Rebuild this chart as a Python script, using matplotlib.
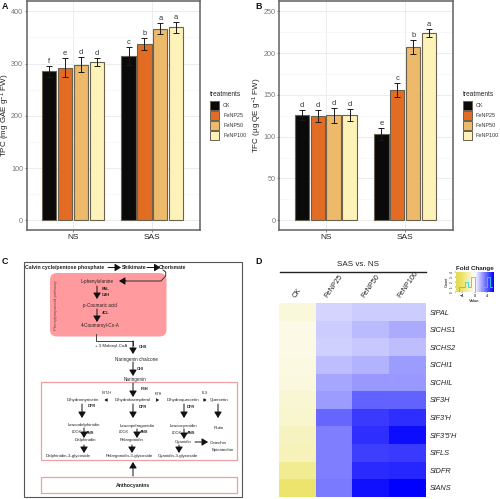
import numpy as np
import matplotlib
matplotlib.use("Agg")
import matplotlib.pyplot as plt
from matplotlib.colors import LinearSegmentedColormap
from matplotlib.patches import FancyBboxPatch, Rectangle

plt.rcParams['font.family'] = ['Liberation Sans', 'DejaVu Sans']
plt.rcParams['mathtext.default'] = 'regular'

W, H = 500, 499

# bar data
groups = ["NS", "SAS"]
treatments = ["CK", "FeNP25", "FeNP50", "FeNP100"]
bar_colors = ["#0a0a0a", "#e36c24", "#edb96a", "#fdf3b8"]

tpc_ns = [285, 292, 298, 303]
tpc_sas = [315, 337, 367, 369]
tpc_ns_err = [10, 18, 15, 8]
tpc_sas_err = [17, 12, 11, 10]
tpc_ns_letters = ["f", "e", "d", "d"]
tpc_sas_letters = ["c", "b", "a", "a"]

tfc_ns = [125.5, 124.5, 125.5, 126]
tfc_sas = [103, 156, 207.5, 224]
tfc_ns_err = [6, 7, 9, 7.5]
tfc_sas_err = [7, 8, 8.5, 5]
tfc_ns_letters = ["d", "d", "d", "d"]
tfc_sas_letters = ["e", "c", "b", "a"]

# heatmap data
genes = ["SlPAL", "SlCHS1", "SlCHS2", "SlCHI1", "SlCHIL", "SlF3H", "SlF3'H",
         "SlF3'5'H", "SlFLS", "SlDFR", "SlANS"]
fold_ck = [-1.0, -0.7, -0.7, -0.8, -0.9, -1.2, -1.4, -1.7, -1.9, -3.0, -4.0]
fold_25 = [1.0, 1.2, 1.1, 1.5, 2.1, 2.3, 3.6, 3.0, 3.0, 3.0, 3.1]
fold_50 = [1.2, 1.6, 1.3, 1.8, 2.4, 3.7, 4.6, 4.9, 4.5, 5.0, 5.6]
fold_100 = [1.2, 2.0, 1.5, 2.3, 2.4, 3.7, 4.9, 5.7, 4.6, 5.1, 6.0]

# colour key histogram
hist_edges = [-6, -5, -4, -3, -2, -1, 0, 1, 2, 3, 4, 5, 6]
hist_counts = [0, 1, 1, 2, 1, 3, 0, 0, 1, 1, 3, 1]


def px_axes(fig, x0, y0, x1, y1, **kw):
    return fig.add_axes([x0 / W, 1 - y1 / H, (x1 - x0) / W, (y1 - y0) / H], **kw)


def bar_panel(fig, box, ns, sas, ns_err, sas_err, ns_let, sas_let, ylim, major, minor, ylabel, label_off):
    ax = px_axes(fig, *box)
    width = 0.18
    step = 0.2
    for g, (vals, errs, lets) in enumerate([(ns, ns_err, ns_let), (sas, sas_err, sas_let)]):
        for i in range(4):
            x = g + 1 + (i - 1.5) * step
            ax.bar(x, vals[i], width, color=bar_colors[i], edgecolor="#6a6250", linewidth=0.8, zorder=3)
            ax.errorbar(x, vals[i], yerr=errs[i], color="#1a1a1a", linewidth=0.7, capsize=2.2,
                        capthick=0.7, zorder=4)
            ax.text(x, vals[i] + errs[i] + (ylim[1] - ylim[0]) * 0.004, lets[i], ha="center", va="bottom",
                    fontsize=5.4, color="#333333", zorder=5)
    ax.set_xlim(0.414, 2.6)
    ax.set_ylim(*ylim)
    ax.set_xticks([1, 2])
    ax.set_xticklabels(groups, fontsize=6, color="#222222")
    ax.set_yticks(major)
    ax.set_yticks(minor, minor=True)
    ax.tick_params(axis="y", labelsize=5.2, labelcolor="#777777", color="#555555", length=1.5, width=0.5, pad=1)
    ax.tick_params(axis="y", which="minor", length=0)
    ax.tick_params(axis="x", length=1.5, width=0.5, color="#555555", pad=1.5)
    ax.set_ylabel(ylabel, fontsize=5.8, color="#222222")
    ax.yaxis.set_label_coords(-label_off / (box[2] - box[0]), 0.5)
    ax.grid(True, which="major", color="#ececec", linewidth=0.7, zorder=0)
    ax.grid(True, which="minor", axis="y", color="#f5f5f5", linewidth=0.5, zorder=0)
    ax.set_axisbelow(True)
    for s in ax.spines.values():
        s.set_color("#606060")
        s.set_linewidth(1.1)
    return ax


def draw_legend(ov, x, y):
    ov.text(x, y, "treatments", fontsize=4.7, va="center", ha="left", color="#222222")
    for i, name in enumerate(treatments):
        top = y + 6.7 + i * 10
        ov.add_patch(Rectangle((x, top + 0.3), 9.4, 9.4, facecolor=bar_colors[i], edgecolor="#6a6250", linewidth=0.7))
        ov.text(x + 13, top + 5, name, fontsize=3.9, va="center", ha="left", color="#333333")


fig = plt.figure(figsize=(W / 100, H / 100), dpi=100)

bar_panel(fig, (26.5, 1, 200, 230), tpc_ns, tpc_sas, tpc_ns_err, tpc_sas_err, tpc_ns_letters, tpc_sas_letters,
          (-18.6, 419.7), [0, 100, 200, 300, 400], [50, 150, 250, 350],
          "TPC (mg GAE g$^{-1}$ FW)", 14)
bar_panel(fig, (279, 1, 453, 230), tfc_ns, tfc_sas, tfc_ns_err, tfc_sas_err, tfc_ns_letters,
          tfc_sas_letters, (-11.6, 262.3), [0, 50, 100, 150, 200, 250], [25, 75, 125, 175, 225],
          "TFC (µg QE g$^{-1}$ FW)", 15)

# overlay in pixel coordinates for the pathway scheme and panel letters
ov = fig.add_axes([0, 0, 1, 1], zorder=10)
ov.set_xlim(0, W)
ov.set_ylim(H, 0)
ov.axis("off")
ov.patch.set_alpha(0)

draw_legend(ov, 210, 94)
draw_legend(ov, 463, 94)

for x, y, s in [(2, 6.5, "A"), (255, 6.5, "B"), (2, 262, "C"), (255, 262, "D")]:
    ov.text(x, y, s, fontsize=6.4, fontweight="bold", va="center", ha="left", color="#111111")

ov.add_patch(Rectangle((23.5, 261.7), 218.5, 235, facecolor="white", edgecolor="#555555", linewidth=0.8))
ov.add_patch(FancyBboxPatch((50, 273), 116.5, 63.5, boxstyle="round,pad=0,rounding_size=7", facecolor="#ff9a9e",
                            edgecolor="none"))
ov.add_patch(Rectangle((41, 382), 196, 78, facecolor="none", edgecolor="#eda0a4", linewidth=0.9))
ov.add_patch(Rectangle((41, 477), 196, 16, facecolor="none", edgecolor="#eda0a4", linewidth=0.9))

scheme_text = [
    (65, 267.5, "Calvin cycle/pentose phosphate", 3.7, "bold", "center"),
    (134, 267.5, "Shikimate", 3.7, "bold", "center"),
    (172, 267.5, "Chorismate", 3.5, "bold", "center"),
    (97, 281, "L-phenylalanine", 3.3, "normal", "center"),
    (100, 305, "p-Coumaric acid", 3.3, "normal", "center"),
    (100, 326, "4-Coumaroyl-Co-A", 3.3, "normal", "center"),
    (102, 289, "PAL", 2.9, "bold", "left"),
    (102, 295, "C4H", 2.9, "bold", "left"),
    (102, 313, "4CL", 2.9, "bold", "left"),
    (111, 346, "+ 3 Malonyl-CoA", 3.2, "normal", "center"),
    (139, 347, "CHS", 2.9, "bold", "left"),
    (136, 359, "Naringenin chalcone", 3.3, "normal", "center"),
    (137, 368.5, "CHI", 2.9, "bold", "left"),
    (135, 379.5, "Naringenin", 3.3, "normal", "center"),
    (141, 388.5, "F3H", 2.9, "bold", "left"),
    (107, 393.5, "F3'5'H", 2.5, "normal", "center"),
    (158, 394, "F3'H", 2.5, "normal", "center"),
    (205, 393.5, "FLS", 2.5, "normal", "center"),
    (83, 400, "Dihydromyricetin", 3.2, "normal", "center"),
    (133, 400, "Dihydrokaempferol", 3.2, "normal", "center"),
    (183, 400, "Dihydroquercetin", 3.2, "normal", "center"),
    (219, 400, "Quercetin", 3.2, "normal", "center"),
    (88, 406, "DFR", 2.9, "bold", "left"),
    (139, 406.5, "DFR", 2.9, "bold", "left"),
    (187, 406.5, "DFR", 2.9, "bold", "left"),
    (84, 425, "Leucodelphinidin", 3.2, "normal", "center"),
    (137, 426, "Leucopelargonidin", 3.2, "normal", "center"),
    (183, 426, "Leucocyanidin", 3.2, "normal", "center"),
    (219, 428, "Rutin", 3.2, "normal", "center"),
    (77, 432, "LDOX", 2.7, "normal", "center"),
    (124, 432, "LDOX", 2.7, "normal", "center"),
    (177, 433, "LDOX", 2.7, "normal", "center"),
    (90, 433, "ANS", 2.9, "bold", "center"),
    (144, 432, "ANS", 2.9, "bold", "center"),
    (191, 433, "ANS", 2.9, "bold", "center"),
    (85, 440.5, "Delphinidin", 3.2, "normal", "center"),
    (132, 440, "Pelargonidin", 3.2, "normal", "center"),
    (183, 442, "Cyanidin", 3.2, "normal", "center"),
    (218, 442.5, "Catechin", 3.2, "normal", "center"),
    (223, 449.5, "Epicatechin", 3.2, "normal", "center"),
    (68, 456.5, "Delphinidin-3-glycoside", 3.2, "normal", "center"),
    (129, 456.5, "Pelargonidin-3-glycoside", 3.2, "normal", "center"),
    (178, 456, "Cyanidin-3-glycoside", 3.2, "normal", "center"),
    (133, 485.5, "Anthocyanins", 3.7, "bold", "center"),
]
for x, y, s, fs, fw, ha in scheme_text:
    ov.text(x, y, s, fontsize=fs, fontweight=fw, ha=ha, va="center", color="#222222")
ov.text(56.5, 305, "Phenylpropanoid pathway", fontsize=3.2, rotation=90, ha="center", va="center", color="#7a4a4a")

scheme_arrows = [
    (108, 267.5, 121, 267.5), (147, 267.5, 160.5, 267.5), (126, 281, 119, 281),
    (97, 286, 97, 299), (97, 309, 97, 322), (133, 341, 133, 354), (133, 362, 133, 376),
    (133, 383, 133, 397), (133, 404, 133, 418), (82, 404, 82, 418), (184, 404, 184, 418),
    (218, 404, 218, 418), (84, 428, 84, 438), (137, 429, 137, 438), (184, 429, 184, 439),
    (84, 445, 84, 453), (132, 445, 132, 453), (179, 445, 179, 453), (195, 442, 208, 442),
    (133, 476, 133, 462),
]
for x0, y0, x1, y1 in scheme_arrows:
    ov.annotate("", xy=(x1, y1), xytext=(x0, y0),
                arrowprops=dict(arrowstyle="-|>,head_width=0.16,head_length=0.26", color="#111111", lw=0.7,
                                shrinkA=0, shrinkB=0, mutation_scale=14))
# the three tiny side arrows next to the dihydro compounds
for x0, x1 in [(107, 104.5), (156.5, 159), (204, 206.5)]:
    ov.annotate("", xy=(x1, 400), xytext=(x0, 400),
                arrowprops=dict(arrowstyle="-|>,head_width=0.1,head_length=0.16", color="#111111", lw=0.4,
                                shrinkA=0, shrinkB=0, mutation_scale=10))
ov.plot([163, 165.7, 165.7, 161, 125], [270, 272, 276, 281, 281], color="#333333", lw=0.7)
ov.plot([96, 96, 133, 133], [334, 341, 341, 345], color="#444444", lw=0.7)

# heatmap
fold = np.array([fold_ck, fold_25, fold_50, fold_100]).T
fc_cmap = LinearSegmentedColormap.from_list(
    "fc", [(0, "#e6da50"), (0.17, "#ece46e"), (0.5, "#ffffff"), (1, "#0000ff")])
ax_h = px_axes(fig, 278.7, 303.3, 426, 496.7)
ax_h.pcolormesh(np.arange(5), np.arange(12), fold, cmap=fc_cmap, vmin=-6, vmax=6)
ax_h.set_ylim(11, 0)
ax_h.set_xlim(0, 4)
for s in ax_h.spines.values():
    s.set_visible(False)
ax_h.set_xticks(np.arange(4) + 0.5)
ax_h.set_xticklabels(treatments, rotation=55, ha="center", va="bottom", fontsize=5.2, color="#222222")
ax_h.xaxis.tick_top()
ax_h.set_yticks(np.arange(11) + 0.5)
ax_h.set_yticklabels(genes, fontsize=5.3, style="italic", color="#222222")
ax_h.yaxis.tick_right()
ax_h.tick_params(length=0, pad=3)

ov.plot([280, 426], [271.7, 271.7], color="#222222", lw=1.0)
ov.text(358, 264, "SAS vs. NS", fontsize=5.8, ha="center", va="center", color="#222222")

# colour key
ax_k = px_axes(fig, 455.7, 272, 493.3, 292)
grad = np.linspace(-6, 6, 200).reshape(1, -1)
ax_k.imshow(grad, extent=(-6, 6, 0, 4), aspect="auto", cmap=fc_cmap, vmin=-6, vmax=6)
ax_k.stairs(hist_counts, hist_edges, color="#22d8e0", linewidth=0.6)
ax_k.set_xlim(-6, 6)
ax_k.set_ylim(0, 4)
ax_k.set_xticks([-4, 0, 4])
ax_k.set_xticklabels(["−4", "0", "4"], fontsize=2.8)
ax_k.set_yticks([0, 1, 2, 3, 4])
ax_k.set_yticklabels(["0", "1", "2", "3", "4"], fontsize=2.2, rotation=90, va="center")
ax_k.tick_params(length=1, width=0.3, pad=0.5)
ax_k.set_xlabel("Value", fontsize=3.2, labelpad=0.8)
ax_k.set_ylabel("Count", fontsize=2.8, labelpad=0.8)
for s in ax_k.spines.values():
    s.set_visible(False)
ax_k.set_title("Fold Change", fontsize=4.5, fontweight="bold", pad=1.2, color="#222222")

fig.savefig("out.png", dpi=100)
